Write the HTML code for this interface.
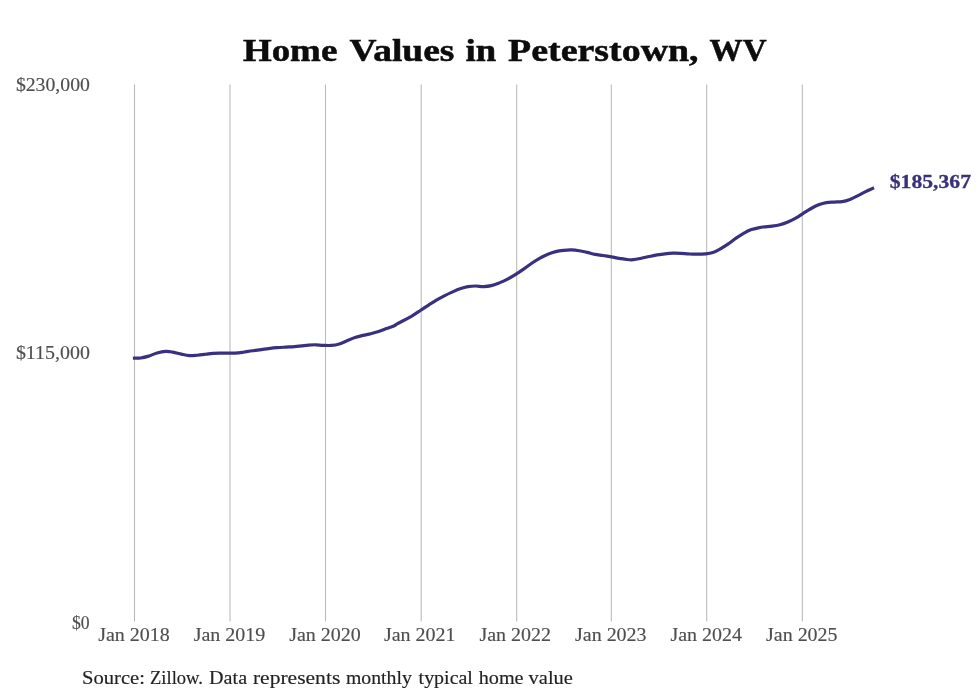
<!DOCTYPE html>
<html><head><meta charset="utf-8"><title>Home Values in Peterstown, WV</title>
<style>
html,body{margin:0;padding:0;background:#fff;}
body{width:980px;height:699px;overflow:hidden;font-family:"Liberation Serif",serif;}
svg{display:block;will-change:transform;}
svg text{font-family:"Liberation Serif",serif;}
</style></head>
<body>
<svg width="980" height="699" viewBox="0 0 980 699">
<rect width="980" height="699" fill="#ffffff"/>
<line x1="134.5" y1="84.6" x2="134.5" y2="621.6" stroke="#b8b8b8" stroke-width="1.05"/>
<line x1="230.0" y1="84.6" x2="230.0" y2="621.6" stroke="#b8b8b8" stroke-width="1.05"/>
<line x1="325.5" y1="84.6" x2="325.5" y2="621.6" stroke="#b8b8b8" stroke-width="1.05"/>
<line x1="421.2" y1="84.6" x2="421.2" y2="621.6" stroke="#b8b8b8" stroke-width="1.05"/>
<line x1="516.7" y1="84.6" x2="516.7" y2="621.6" stroke="#b8b8b8" stroke-width="1.05"/>
<line x1="611.3" y1="84.6" x2="611.3" y2="621.6" stroke="#b8b8b8" stroke-width="1.05"/>
<line x1="706.7" y1="84.6" x2="706.7" y2="621.6" stroke="#b8b8b8" stroke-width="1.05"/>
<line x1="802.3" y1="84.6" x2="802.3" y2="621.6" stroke="#b8b8b8" stroke-width="1.05"/>
<path fill="none" stroke="#39307f" stroke-width="3.2" stroke-linejoin="round" stroke-linecap="square" d="M134.50,358.20C135.53,358.17 138.35,358.35 140.70,358.00C143.05,357.65 145.87,356.96 148.60,356.11C151.33,355.27 154.25,353.72 157.10,352.93C159.95,352.14 163.07,351.51 165.70,351.38C168.33,351.24 170.28,351.65 172.90,352.12C175.52,352.59 178.67,353.61 181.40,354.19C184.13,354.78 186.68,355.46 189.30,355.64C191.92,355.82 194.37,355.48 197.10,355.25C199.83,355.03 203.07,354.60 205.70,354.27C208.33,353.94 210.28,353.47 212.90,353.28C215.52,353.09 218.55,353.14 221.40,353.13C224.25,353.12 227.13,353.26 230.00,353.21C232.87,353.16 236.22,353.04 238.60,352.84C240.98,352.64 241.92,352.36 244.30,352.01C246.68,351.66 250.05,351.14 252.90,350.75C255.75,350.35 258.78,349.97 261.40,349.62C264.02,349.26 265.98,348.92 268.60,348.60C271.22,348.28 274.25,347.92 277.10,347.68C279.95,347.43 282.83,347.29 285.70,347.12C288.57,346.94 291.68,346.84 294.30,346.64C296.92,346.44 299.02,346.15 301.40,345.88C303.78,345.62 306.22,345.26 308.60,345.07C310.98,344.89 313.32,344.74 315.70,344.78C318.08,344.82 320.28,345.21 322.90,345.32C325.52,345.44 328.67,345.67 331.40,345.44C334.13,345.22 336.68,344.75 339.30,343.97C341.92,343.19 344.48,341.81 347.10,340.75C349.72,339.68 352.37,338.47 355.00,337.58C357.63,336.69 360.28,336.04 362.90,335.40C365.52,334.77 368.08,334.42 370.70,333.78C373.32,333.14 375.98,332.43 378.60,331.56C381.22,330.70 383.78,329.56 386.40,328.58C389.02,327.61 392.52,326.50 394.30,325.71C396.08,324.93 395.43,324.79 397.10,323.87C398.77,322.94 401.67,321.58 404.30,320.16C406.93,318.75 410.17,317.02 412.90,315.37C415.63,313.72 418.08,311.99 420.70,310.27C423.32,308.55 425.98,306.74 428.60,305.05C431.22,303.35 433.78,301.65 436.40,300.11C439.02,298.56 441.68,297.14 444.30,295.81C446.92,294.47 449.48,293.28 452.10,292.12C454.72,290.95 457.37,289.71 460.00,288.80C462.63,287.88 465.28,287.09 467.90,286.62C470.52,286.16 473.08,285.99 475.70,285.99C478.32,285.98 480.98,286.64 483.60,286.58C486.22,286.53 488.78,286.29 491.40,285.67C494.02,285.05 496.68,283.93 499.30,282.88C501.92,281.84 504.37,280.81 507.10,279.40C509.83,277.98 512.83,276.19 515.70,274.39C518.57,272.60 521.57,270.53 524.30,268.63C527.03,266.73 529.48,264.77 532.10,263.00C534.72,261.24 537.37,259.53 540.00,258.06C542.63,256.60 545.28,255.27 547.90,254.19C550.52,253.12 553.08,252.26 555.70,251.62C558.32,250.99 560.98,250.66 563.60,250.38C566.22,250.09 568.78,249.87 571.40,249.92C574.02,249.98 576.68,250.31 579.30,250.72C581.92,251.13 584.48,251.78 587.10,252.39C589.72,253.00 592.37,253.86 595.00,254.38C597.63,254.89 600.17,255.09 602.90,255.50C605.63,255.92 608.67,256.42 611.40,256.88C614.13,257.35 616.68,257.86 619.30,258.30C621.92,258.74 624.77,259.30 627.10,259.53C629.43,259.77 630.92,259.91 633.30,259.70C635.68,259.49 638.73,258.81 641.40,258.27C644.07,257.73 646.68,257.01 649.30,256.46C651.92,255.91 654.48,255.39 657.10,254.94C659.72,254.50 662.37,254.08 665.00,253.79C667.63,253.50 670.28,253.29 672.90,253.22C675.52,253.15 678.08,253.25 680.70,253.38C683.32,253.50 685.98,253.80 688.60,253.94C691.22,254.08 693.55,254.22 696.40,254.21C699.25,254.20 702.95,254.16 705.70,253.88C708.45,253.60 710.52,253.32 712.90,252.53C715.28,251.73 717.50,250.49 720.00,249.09C722.50,247.69 725.28,245.93 727.90,244.15C730.52,242.37 733.08,240.23 735.70,238.42C738.32,236.61 740.98,234.78 743.60,233.31C746.22,231.84 748.78,230.53 751.40,229.58C754.02,228.63 757.15,228.06 759.30,227.61C761.45,227.16 762.17,227.12 764.30,226.88C766.43,226.65 769.48,226.55 772.10,226.19C774.72,225.84 777.37,225.46 780.00,224.76C782.63,224.06 785.28,223.06 787.90,221.97C790.52,220.87 793.20,219.57 795.70,218.16C798.20,216.76 800.40,215.12 802.90,213.55C805.40,211.99 808.08,210.20 810.70,208.75C813.32,207.30 815.98,205.88 818.60,204.85C821.22,203.83 823.78,203.07 826.40,202.60C829.02,202.13 831.68,202.20 834.30,202.04C836.92,201.89 839.48,202.09 842.10,201.65C844.72,201.22 847.37,200.44 850.00,199.44C852.63,198.44 855.28,196.96 857.90,195.66C860.52,194.35 863.25,192.80 865.70,191.59C868.15,190.39 871.45,188.93 872.60,188.40"/>
<text x="242.9" y="60.5" textLength="94.4" lengthAdjust="spacingAndGlyphs" font-size="31.5" font-weight="bold" fill="#0c0c0c" stroke="#0c0c0c" stroke-width="0.5" text-anchor="start">H<tspan font-size="31.5">ome</tspan></text>
<text x="349.6" y="60.5" textLength="104.8" lengthAdjust="spacingAndGlyphs" font-size="31.5" font-weight="bold" fill="#0c0c0c" stroke="#0c0c0c" stroke-width="0.5" text-anchor="start">V<tspan font-size="31.5">alues</tspan></text>
<text x="465.5" y="60.5" textLength="30.6" lengthAdjust="spacingAndGlyphs" font-size="31.5" font-weight="bold" fill="#0c0c0c" stroke="#0c0c0c" stroke-width="0.5" text-anchor="start"><tspan font-size="31.5">in</tspan></text>
<text x="508.1" y="60.5" textLength="190.5" lengthAdjust="spacingAndGlyphs" font-size="31.5" font-weight="bold" fill="#0c0c0c" stroke="#0c0c0c" stroke-width="0.5" text-anchor="start">P<tspan font-size="31.5">eterstown</tspan>,</text>
<text x="709.6" y="60.5" textLength="57.0" lengthAdjust="spacingAndGlyphs" font-size="31.5" font-weight="bold" fill="#0c0c0c" stroke="#0c0c0c" stroke-width="0.5" text-anchor="start">WV</text>
<text x="15.9" y="90.5" textLength="74.0" lengthAdjust="spacingAndGlyphs" font-size="19.0" font-weight="normal" fill="#4e4e4e" stroke="#4e4e4e" stroke-width="0.15" text-anchor="start">$230,000</text>
<text x="15.9" y="358.5" textLength="74.0" lengthAdjust="spacingAndGlyphs" font-size="19.0" font-weight="normal" fill="#4e4e4e" stroke="#4e4e4e" stroke-width="0.15" text-anchor="start">$115,000</text>
<text x="71.9" y="628.8" textLength="17.6" lengthAdjust="spacingAndGlyphs" font-size="19.0" font-weight="normal" fill="#4e4e4e" stroke="#4e4e4e" stroke-width="0.15" text-anchor="start">$0</text>
<text x="98.2" y="641.1" textLength="71.6" lengthAdjust="spacingAndGlyphs" font-size="19.6" font-weight="normal" fill="#4e4e4e" stroke="#4e4e4e" stroke-width="0.15" text-anchor="start">Jan 2018</text>
<text x="193.7" y="641.1" textLength="71.6" lengthAdjust="spacingAndGlyphs" font-size="19.6" font-weight="normal" fill="#4e4e4e" stroke="#4e4e4e" stroke-width="0.15" text-anchor="start">Jan 2019</text>
<text x="289.2" y="641.1" textLength="71.6" lengthAdjust="spacingAndGlyphs" font-size="19.6" font-weight="normal" fill="#4e4e4e" stroke="#4e4e4e" stroke-width="0.15" text-anchor="start">Jan 2020</text>
<text x="383.9" y="641.1" textLength="71.6" lengthAdjust="spacingAndGlyphs" font-size="19.6" font-weight="normal" fill="#4e4e4e" stroke="#4e4e4e" stroke-width="0.15" text-anchor="start">Jan 2021</text>
<text x="479.4" y="641.1" textLength="71.6" lengthAdjust="spacingAndGlyphs" font-size="19.6" font-weight="normal" fill="#4e4e4e" stroke="#4e4e4e" stroke-width="0.15" text-anchor="start">Jan 2022</text>
<text x="575.0" y="641.1" textLength="71.6" lengthAdjust="spacingAndGlyphs" font-size="19.6" font-weight="normal" fill="#4e4e4e" stroke="#4e4e4e" stroke-width="0.15" text-anchor="start">Jan 2023</text>
<text x="670.4" y="641.1" textLength="71.6" lengthAdjust="spacingAndGlyphs" font-size="19.6" font-weight="normal" fill="#4e4e4e" stroke="#4e4e4e" stroke-width="0.15" text-anchor="start">Jan 2024</text>
<text x="766.0" y="641.1" textLength="71.6" lengthAdjust="spacingAndGlyphs" font-size="19.6" font-weight="normal" fill="#4e4e4e" stroke="#4e4e4e" stroke-width="0.15" text-anchor="start">Jan 2025</text>
<text x="889.8" y="187.6" textLength="81.2" lengthAdjust="spacingAndGlyphs" font-size="19.1" font-weight="bold" fill="#38307a" stroke="#38307a" stroke-width="0.3" text-anchor="start">$185,367</text>
<text x="82" y="684.0" textLength="62.9" lengthAdjust="spacingAndGlyphs" font-size="18.8" font-weight="normal" fill="#222" stroke="#222" stroke-width="0.15" text-anchor="start">Source:</text>
<text x="150" y="684.0" textLength="52.9" lengthAdjust="spacingAndGlyphs" font-size="18.8" font-weight="normal" fill="#222" stroke="#222" stroke-width="0.15" text-anchor="start">Zillow.</text>
<text x="209.1" y="684.0" textLength="38.0" lengthAdjust="spacingAndGlyphs" font-size="18.8" font-weight="normal" fill="#222" stroke="#222" stroke-width="0.15" text-anchor="start">Data</text>
<text x="252.9" y="684.0" textLength="87.4" lengthAdjust="spacingAndGlyphs" font-size="18.8" font-weight="normal" fill="#222" stroke="#222" stroke-width="0.15" text-anchor="start">represents</text>
<text x="345.9" y="684.0" textLength="65.9" lengthAdjust="spacingAndGlyphs" font-size="18.8" font-weight="normal" fill="#222" stroke="#222" stroke-width="0.15" text-anchor="start">monthly</text>
<text x="418.6" y="684.0" textLength="54.3" lengthAdjust="spacingAndGlyphs" font-size="18.8" font-weight="normal" fill="#222" stroke="#222" stroke-width="0.15" text-anchor="start">typical</text>
<text x="478.7" y="684.0" textLength="44.9" lengthAdjust="spacingAndGlyphs" font-size="18.8" font-weight="normal" fill="#222" stroke="#222" stroke-width="0.15" text-anchor="start">home</text>
<text x="528.6" y="684.0" textLength="44.3" lengthAdjust="spacingAndGlyphs" font-size="18.8" font-weight="normal" fill="#222" stroke="#222" stroke-width="0.15" text-anchor="start">value</text>
</svg>
</body></html>
